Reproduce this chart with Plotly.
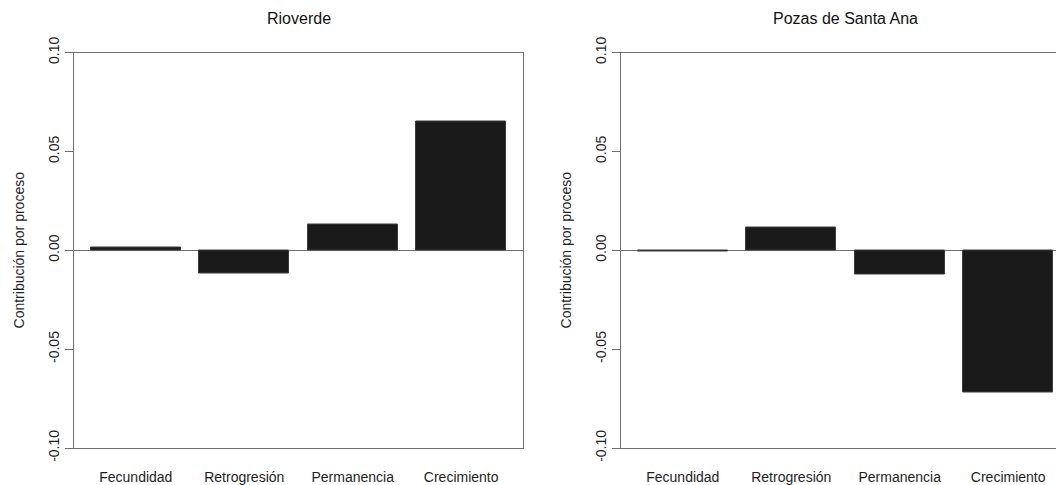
import plotly.graph_objects as go

# Contribution of each vital-rate process, by site
procesos = ["Fecundidad", "Retrogresión", "Permanencia", "Crecimiento"]
rioverde = [0.0016, -0.0116, 0.0129, 0.0653]
pozas_santa_ana = [-0.0008, 0.0114, -0.0121, -0.0717]
sitios = ["Rioverde", "Pozas de Santa Ana"]
y_ticks = [-0.10, -0.05, 0.00, 0.05, 0.10]
y_tick_text = ["-0.10", "-0.05", "0.00", "0.05", "0.10"]

W, H = 1056, 485
FONT = "Liberation Sans, Arial, sans-serif"
AXIS_COL = "#6f6f6f"
BAR_FILL = "#1a1a1a"

# barplot geometry: unit-width bars with 0.2 spacing
bar_w, space = 1.0, 0.2
centers = [space + bar_w / 2 + i * (bar_w + space) for i in range(len(procesos))]
left_edge = space
right_edge = space + len(procesos) * (bar_w + space) - space
pad = 0.04 * (right_edge - left_edge)
x0 = left_edge - pad
full_range = [x0, right_edge + pad]

# panel placement (px)
p1_left, p1_right = 74, 523
p2_left = 621
px_per_unit = (p1_right - p1_left) / (full_range[1] - full_range[0])
p2_range = [x0, x0 + (W - p2_left) / px_per_unit]
y_top, y_bot = 52.5, 448

fig = go.Figure()
for i, (vals, xa, ya) in enumerate([(rioverde, "x", "y"), (pozas_santa_ana, "x2", "y2")]):
    fig.add_trace(go.Bar(
        x=centers, y=vals, width=bar_w, xaxis=xa, yaxis=ya,
        marker=dict(color=BAR_FILL, line=dict(color="#3c3c3c", width=1)),
        showlegend=False, hoverinfo="x+y",
    ))

ydom = [1 - y_bot / H, 1 - y_top / H]
common_x = dict(
    tickmode="array", tickvals=centers, ticktext=procesos,
    showline=True, linecolor=AXIS_COL, linewidth=1, mirror=True,
    ticks="", showgrid=False, zeroline=False, automargin=False,
    tickfont=dict(family=FONT, size=14, color="#1e1e1e"),
    ticklabelstandoff=16,
)
common_y = dict(
    range=[-0.1, 0.1], tickmode="array", tickvals=y_ticks, ticktext=y_tick_text,
    tickangle=-90, ticks="outside", ticklen=8, tickcolor=AXIS_COL, tickwidth=1,
    showline=True, linecolor=AXIS_COL, linewidth=1, automargin=False,
    showgrid=False, zeroline=True, zerolinecolor=AXIS_COL, zerolinewidth=1,
    tickfont=dict(family=FONT, size=14, color="#1e1e1e"),
    title=dict(text="Contribución por proceso", standoff=18,
               font=dict(family=FONT, size=14, color="#1e1e1e")),
    domain=ydom,
)

fig.update_layout(
    width=W, height=H, margin=dict(l=0, r=0, t=0, b=0, pad=0, autoexpand=False),
    paper_bgcolor="white", plot_bgcolor="white",
    bargap=0,
    xaxis=dict(domain=[p1_left / W, p1_right / W], range=full_range, anchor="y", **common_x),
    yaxis=dict(anchor="x", mirror=True, **common_y),
    xaxis2=dict(domain=[p2_left / W, 1.0], range=p2_range, anchor="y2", **common_x),
    yaxis2=dict(anchor="x2", mirror=False, **common_y),
)

# panel titles centred over each full panel box
p2_right_full = p2_left + (p1_right - p1_left)
for name, cx in zip(sitios, [(p1_left + p1_right) / 2, (p2_left + p2_right_full) / 2]):
    fig.add_annotation(
        text=name, xref="paper", yref="paper", x=cx / W, y=1 - 19 / H,
        showarrow=False, xanchor="center", yanchor="middle",
        font=dict(family=FONT, size=16, color="#111111"),
    )

fig.write_html("out.html")
